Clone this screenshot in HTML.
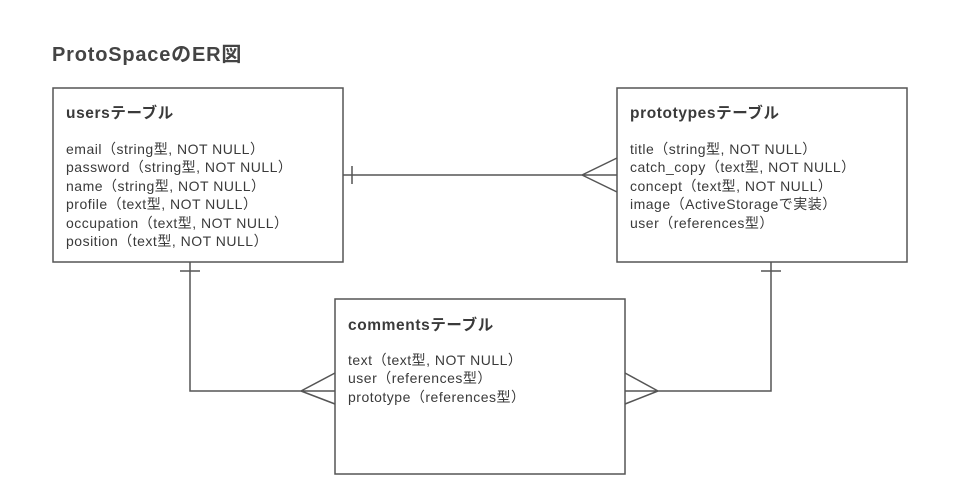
<!DOCTYPE html>
<html><head><meta charset="utf-8"><style>
body{margin:0;width:961px;height:498px;background:#fff;overflow:hidden;font-family:"Liberation Sans","Noto Sans CJK JP",sans-serif;color:#3a3a3a}
.t{position:absolute;white-space:nowrap}
.title{left:52px;top:38px;font-size:20px;font-weight:bold;color:#444;letter-spacing:0.8px}
.h{font-size:15.5px;font-weight:bold;letter-spacing:0.6px}
.f{font-size:14px;line-height:18.4px;letter-spacing:0.5px}
</style></head><body>
<svg width="961" height="498" style="position:absolute;left:0;top:0" fill="none" stroke="#555" stroke-width="1.5">
<rect x="53" y="88" width="290" height="174"/>
<rect x="617" y="88" width="290" height="174"/>
<rect x="335" y="299" width="290" height="175"/>
<path d="M343 175H617M352 166V184M582 175L617 158M582 175L617 192"/>
<path d="M190 262V391H335M180 271H200M301 391L335 373M301 391L335 404"/>
<path d="M771 262V391H625M761 271H781M658 391L625 373M658 391L625 404"/>
</svg>
<div class="t title">ProtoSpaceのER図</div>
<div class="t h" style="left:66px;top:101px">usersテーブル</div>
<div class="t f" style="left:66px;top:140px">email（string型, NOT NULL）<br>password（string型, NOT NULL）<br>name（string型, NOT NULL）<br>profile（text型, NOT NULL）<br>occupation（text型, NOT NULL）<br>position（text型, NOT NULL）</div>
<div class="t h" style="left:630px;top:101px">prototypesテーブル</div>
<div class="t f" style="left:630px;top:140px">title（string型, NOT NULL）<br>catch_copy（text型, NOT NULL）<br>concept（text型, NOT NULL）<br>image（ActiveStorageで実装）<br>user（references型）</div>
<div class="t h" style="left:348px;top:313px">commentsテーブル</div>
<div class="t f" style="left:348px;top:351px">text（text型, NOT NULL）<br>user（references型）<br>prototype（references型）</div>
</body></html>
